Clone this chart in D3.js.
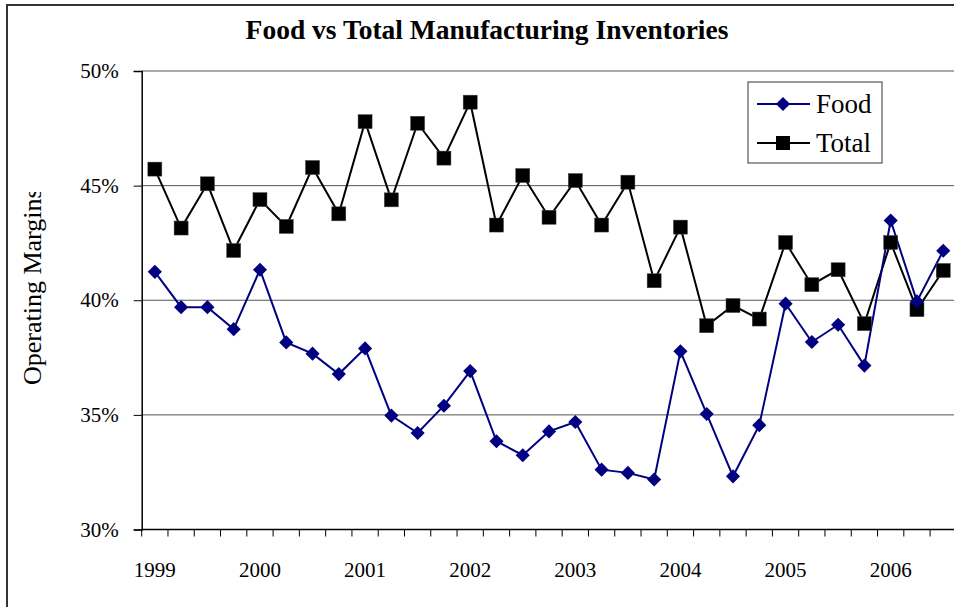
<!DOCTYPE html>
<html>
<head>
  <style>
    body { margin: 0; background: #fff; }
    svg text { font-family: "Liberation Serif", "Times New Roman", serif; fill: #000; }
  </style>
</head>
<body>
<script src="https://d3js.org/d3.v7.min.js"></script>
<svg id="chart" width="954" height="607"></svg>
<script>
  // quarters, 1999 Q1 .. 2006 Q3
  var quarters = ["1999Q1", "1999Q2", "1999Q3", "1999Q4",
    "2000Q1", "2000Q2", "2000Q3", "2000Q4",
    "2001Q1", "2001Q2", "2001Q3", "2001Q4",
    "2002Q1", "2002Q2", "2002Q3", "2002Q4",
    "2003Q1", "2003Q2", "2003Q3", "2003Q4",
    "2004Q1", "2004Q2", "2004Q3", "2004Q4",
    "2005Q1", "2005Q2", "2005Q3", "2005Q4",
    "2006Q1", "2006Q2", "2006Q3"];

  var food = [41.24, 39.70, 39.70, 38.74, 41.33, 38.16, 37.67, 36.78,
    37.90, 34.97, 34.21, 35.40, 36.91, 33.85, 33.24, 34.28,
    34.69, 32.61, 32.47, 32.18, 37.77, 35.04, 32.32, 34.55,
    39.85, 38.18, 38.93, 37.15, 43.48, 39.95, 42.16];

  var total = [45.72, 43.15, 45.08, 42.17, 44.39, 43.22, 45.79, 43.77,
    47.79, 44.38, 47.72, 46.20, 48.64, 43.28, 45.44, 43.62,
    45.22, 43.28, 45.15, 40.85, 43.19, 38.89, 39.77, 39.18,
    42.52, 40.68, 41.33, 38.98, 42.52, 39.59, 41.30];

  var yTicks = [30, 35, 40, 45, 50];

  var svg = d3.select('#chart');

  // plot area
  var plotLeft = 141.7, plotTop = 71, plotBottom = 529.5;
  var bandW = 26.28;
  var plotRight = plotLeft + bandW * quarters.length;

  var x = d3.scaleBand()
    .domain(quarters)
    .range([plotLeft, plotRight])
    .paddingInner(0)
    .paddingOuter(0);

  var y = d3.scaleLinear()
    .domain([30, 50])
    .range([plotBottom, plotTop]);

  //outer chart border (runs off the page on right and bottom)
  svg.append('rect')
    .attr('x', 7).attr('y', 5)
    .attr('width', 1000).attr('height', 700)
    .attr('fill', 'none')
    .attr('stroke', '#333')
    .attr('stroke-width', 2);

  // title
  svg.append('text')
    .attr('x', 487).attr('y', 39)
    .attr('text-anchor', 'middle')
    .style('font-size', '27.5px')
    .style('font-weight', 'bold')
    .text('Food vs Total Manufacturing Inventories');

  // gridlines
  svg.append('g')
    .selectAll('line')
    .data(yTicks.slice(1))
    .enter()
    .append('line')
    .attr('x1', plotLeft).attr('x2', 960)
    .attr('y1', function(d) { return y(d); })
    .attr('y2', function(d) { return y(d); })
    .attr('stroke', '#555')
    .attr('stroke-width', 1);

  // y axis
  var yAxis = d3.axisLeft(y)
    .tickValues(yTicks)
    .tickSize(8)
    .tickPadding(15)
    .tickFormat(function(d) { return d + '%'; });

  var gy = svg.append('g')
    .attr('transform', 'translate(' + plotLeft + ',0)')
    .call(yAxis);
  gy.select('.domain').attr('stroke', '#000').attr('stroke-width', 1.5);
  gy.selectAll('.tick line').attr('stroke', '#000');
  gy.selectAll('.tick text')
    .style('font-size', '21px')
    .style('font-family', '"Liberation Serif", "Times New Roman", serif');

  // x axis: ticks on quarter boundaries, year labels on Q1
  var bounds = quarters.map(function(q) { return x(q); }).concat([plotRight]);
  var gx = svg.append('g');
  gx.append('line')
    .attr('x1', plotLeft).attr('x2', 960)
    .attr('y1', plotBottom).attr('y2', plotBottom)
    .attr('stroke', '#000').attr('stroke-width', 1.5);
  gx.selectAll('.qt')
    .data(bounds)
    .enter()
    .append('line')
    .attr('class', 'qt')
    .attr('x1', function(d) { return d; })
    .attr('x2', function(d) { return d; })
    .attr('y1', plotBottom).attr('y2', plotBottom + 7)
    .attr('stroke', '#000');
  gx.selectAll('.yl')
    .data(quarters.filter(function(q) { return q.slice(4) === 'Q1'; }))
    .enter()
    .append('text')
    .attr('class', 'yl')
    .attr('x', function(d) { return x(d) + x.bandwidth() / 2; })
    .attr('y', 577)
    .attr('text-anchor', 'middle')
    .style('font-size', '21px')
    .text(function(d) { return d.slice(0, 4); });

  // y axis title, clipped at the top like the original
  svg.append('clipPath').attr('id', 'ytclip')
    .append('rect')
    .attr('x', 0).attr('y', 192)
    .attr('width', 80).attr('height', 300);
  svg.append('g')
    .attr('clip-path', 'url(#ytclip)')
    .append('text')
    .attr('transform', 'translate(41,385) rotate(-90)')
    .attr('text-anchor', 'start')
    .style('font-size', '26px')
    .text('Operating Margins');

  var line = d3.line()
    .x(function(d, i) { return x(quarters[i]) + x.bandwidth() / 2; })
    .y(function(d) { return y(d); });

  // Total series
  svg.append('path')
    .datum(total)
    .attr('d', line)
    .attr('fill', 'none')
    .attr('stroke', '#000')
    .attr('stroke-width', 2);

  // Food series
  svg.append('path')
    .datum(food)
    .attr('d', line)
    .attr('fill', 'none')
    .attr('stroke', '#000080')
    .attr('stroke-width', 2);

  svg.append('g')
    .selectAll('rect')
    .data(total)
    .enter()
    .append('rect')
    .attr('x', function(d, i) { return x(quarters[i]) + x.bandwidth() / 2 - 7; })
    .attr('y', function(d) { return y(d) - 7; })
    .attr('width', 14).attr('height', 14)
    .attr('fill', '#000')
    .attr('stroke', '#444')
    .attr('stroke-width', 0.5);

  svg.append('g')
    .selectAll('path')
    .data(food)
    .enter()
    .append('path')
    .attr('transform', function(d, i) {
      return 'translate(' + (x(quarters[i]) + x.bandwidth() / 2) + ',' + y(d) + ') rotate(45)';
    })
    .attr('d', d3.symbol().type(d3.symbolSquare).size(100))
    .attr('fill', '#000080');

  // legend
  var lg = svg.append('g');
  lg.append('rect')
    .attr('x', 748).attr('y', 82)
    .attr('width', 134).attr('height', 81)
    .attr('fill', '#fff')
    .attr('stroke', '#555')
    .attr('stroke-width', 1.2);

  var legendItems = [
    { name: 'Food', color: '#000080', yy: 104 },
    { name: 'Total', color: '#000', yy: 143 }
  ];
  legendItems.forEach(function(it) {
    lg.append('line')
      .attr('x1', 757).attr('x2', 810)
      .attr('y1', it.yy).attr('y2', it.yy)
      .attr('stroke', it.color).attr('stroke-width', 2);
    if (it.name === 'Food') {
      lg.append('path')
        .attr('transform', 'translate(783,' + it.yy + ') rotate(45)')
        .attr('d', d3.symbol().type(d3.symbolSquare).size(100))
        .attr('fill', it.color);
    } else {
      lg.append('rect')
        .attr('x', 776).attr('y', it.yy - 7)
        .attr('width', 14).attr('height', 14)
        .attr('fill', '#000');
    }
    lg.append('text')
      .attr('x', 816).attr('y', it.yy + 9)
      .style('font-size', '27px')
      .text(it.name);
  });
</script>
</body>
</html>
